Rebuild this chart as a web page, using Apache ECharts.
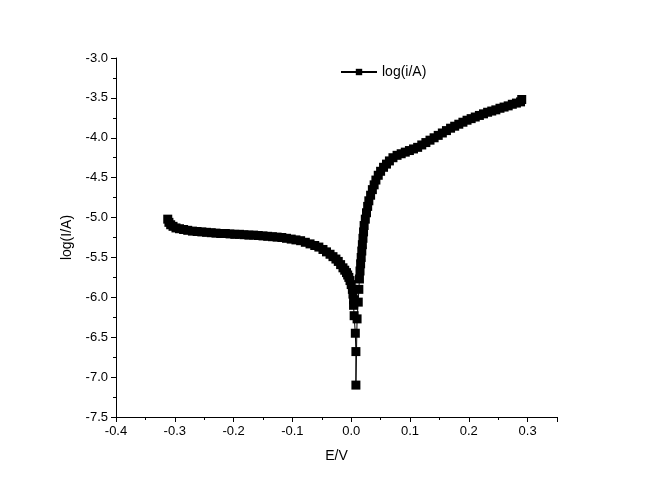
<!DOCTYPE html>
<html>
<head>
<meta charset="utf-8">
<script src="https://cdn.jsdelivr.net/npm/echarts@6/dist/echarts.min.js"></script>
<style>html,body{margin:0;padding:0;background:#fff}#main{width:647px;height:500px}</style>
</head>
<body>
<div id="main"></div>
<script>
// E/V values and log(i/A) values (scan order)
var potential = [
  -0.312,-0.310,-0.307,-0.303,-0.298,-0.292,-0.285,-0.278,-0.270,-0.262,-0.254,-0.246,-0.238,-0.230,
  -0.222,-0.214,-0.206,-0.198,-0.190,-0.182,-0.174,-0.166,-0.158,-0.150,-0.142,-0.134,-0.126,-0.118,
  -0.110,-0.102,-0.094,-0.086,-0.078,-0.070,-0.062,-0.055,-0.048,-0.042,-0.036,-0.031,-0.026,-0.022,
  -0.018,-0.014,-0.011,-0.008,-0.006,-0.004,-0.002,0.000,0.002,0.003,0.004,0.004,0.005,0.007,0.008,0.008,
  0.010,0.012,0.013,0.014,0.015,0.016,0.017,0.018,0.019,0.020,0.021,0.022,0.024,0.026,0.028,0.030,
  0.033,0.036,0.039,0.042,0.046,0.050,0.055,0.060,0.065,0.071,0.078,0.085,0.092,0.099,0.106,0.113,
  0.120,0.127,0.134,0.141,0.148,0.155,0.162,0.169,0.176,0.183,0.190,0.197,0.204,0.211,0.218,0.225,
  0.232,0.239,0.246,0.253,0.260,0.267,0.274,0.281,0.288,0.290
];
var logCurrent = [
  -5.02,-5.06,-5.09,-5.11,-5.13,-5.14,-5.15,-5.16,-5.17,-5.175,-5.18,-5.185,-5.19,-5.195,
  -5.20,-5.20,-5.205,-5.21,-5.21,-5.215,-5.22,-5.22,-5.225,-5.23,-5.235,-5.24,-5.245,-5.25,
  -5.26,-5.27,-5.28,-5.29,-5.31,-5.33,-5.35,-5.37,-5.40,-5.43,-5.46,-5.49,-5.52,-5.55,
  -5.59,-5.63,-5.66,-5.69,-5.72,-5.75,-5.79,-5.84,-5.90,-5.96,-6.03,-6.10,-6.23,-6.45,-6.68,-7.10,
  -6.27,-6.06,-5.90,-5.77,-5.67,-5.58,-5.50,-5.42,-5.34,-5.26,-5.18,-5.10,-5.02,-4.94,-4.86,-4.79,
  -4.72,-4.65,-4.59,-4.53,-4.47,-4.42,-4.37,-4.33,-4.29,-4.25,-4.22,-4.20,-4.18,-4.16,-4.14,-4.12,
  -4.09,-4.06,-4.03,-4.00,-3.97,-3.94,-3.91,-3.88,-3.855,-3.83,-3.805,-3.78,-3.76,-3.74,-3.72,-3.70,
  -3.68,-3.665,-3.65,-3.63,-3.615,-3.60,-3.58,-3.565,-3.55,-3.52
];
var seriesName = 'log(i/A)';

var points = potential.map(function(e, i) { return [e, logCurrent[i]]; });

var chart = echarts.init(document.getElementById('main'));
var axisCommon = {
  axisLine: {show: true, onZero: false, lineStyle: {color: '#000', width: 1}},
  axisTick: {show: true, inside: false, length: 5, lineStyle: {color: '#000'}},
  minorTick: {show: true, splitNumber: 2, length: 3, lineStyle: {color: '#000'}},
  splitLine: {show: false},
  axisLabel: {color: '#000', fontFamily: 'Liberation Sans', fontSize: 13},
  nameTextStyle: {color: '#000', fontFamily: 'Liberation Sans', fontSize: 14}
};
chart.setOption({
  animation: false,
  grid: {left: 116, right: 90, top: 58, bottom: 83},
  legend: {
    data: [seriesName], left: 335, top: 60, itemWidth: 36, itemHeight: 8,
    textStyle: {color: '#000', fontFamily: 'Liberation Sans', fontSize: 14}
  },
  xAxis: echarts.util.merge({
    type: 'value', min: -0.4, max: 0.35, interval: 0.1,
    name: 'E/V', nameLocation: 'middle', nameGap: 32,
    axisLabel: {formatter: function(v) { return v > 0.31 ? '' : v.toFixed(1); }}
  }, axisCommon),
  yAxis: echarts.util.merge({
    type: 'value', min: -7.5, max: -3.0, interval: 0.5,
    name: 'log(I/A)', nameLocation: 'middle', nameGap: 42,
    axisLabel: {formatter: function(v) { return v.toFixed(1); }}
  }, axisCommon),
  series: [{
    name: seriesName, type: 'line', data: points,
    symbol: 'rect', symbolSize: 9, showAllSymbol: true,
    itemStyle: {color: '#000'},
    lineStyle: {color: '#000', width: 1}
  }]
});
</script>
</body>
</html>
